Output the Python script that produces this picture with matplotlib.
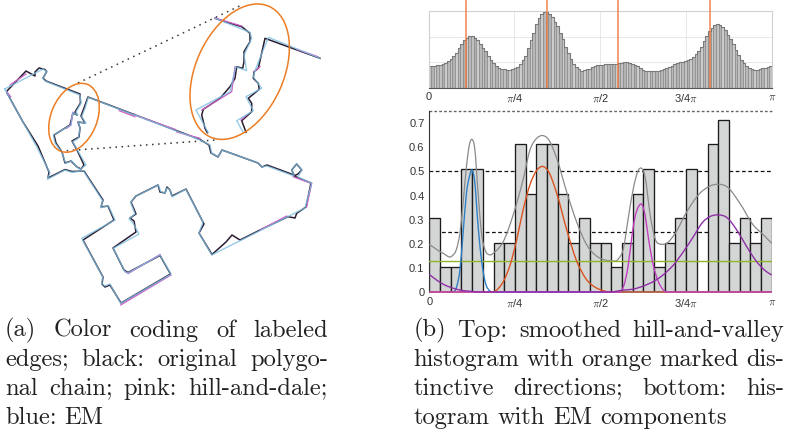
import matplotlib
matplotlib.use("Agg")
import numpy as np
import matplotlib.pyplot as plt
from matplotlib.patches import Ellipse, PathPatch
from matplotlib.path import Path

W, H = 787, 433

# top histogram, heights
hill_vals = [64,65,66,67,68,71,75,79,85,95,105,118,132,143,150,154,154,149,144,132,
             120,109,95,82,73,65,60,57,55,54,54,56,59,63,72,84,95,120,142,165,
             190,208,222,228,229,222,211,198,186,165,145,122,103,86,72,63,55,51,52,55,
             57,61,65,67,68,69,70,70,71,71,72,74,75,76,76,75,72,69,65,59,
             54,51,49,49,49,49,50,53,56,59,63,66,70,73,76,78,81,83,87,93,
             101,110,123,140,155,170,180,188,190,187,181,173,159,145,130,112,98,84,74,66,
             58,55,54,54,56,58,60,62,64]
hill_peaks = [0.109, 0.346, 0.551, 0.820]

# bottom histogram
em_hist = [.306,.102,.102,.51,.51,0,.204,.204,.612,.408,.612,.612,.408,.204,.306,.204,
           .204,.102,.204,.408,.51,.102,.204,.306,.51,0,.612,.714,.204,.306,.204,.306]
em_flat = 0.127
total_x = [0,.021,.041,.065,.080,.090,.099,.109,.117,.125,.132,.143,.153,.163,.177,.192,.216,.245,.275,.294,
           .314,.330,.348,.372,.401,.430,.460,.484,.499,.528,.552,.567,.581,.596,.611,.620,.630,.645,.659,.679,
           .693,.718,.752,.790,.820,.844,.869,.907,.946,.976,1]
total_y = [.198,.177,.160,.148,.181,.250,.375,.527,.610,.633,.603,.402,.237,.174,.154,.167,.209,.320,.472,.589,
           .638,.649,.633,.555,.416,.292,.195,.154,.140,.130,.137,.181,.306,.430,.506,.513,.479,.320,.223,.198,
           .202,.243,.333,.409,.440,.447,.437,.368,.278,.237,.202]
blue_x = [0,.070,.080,.090,.099,.109,.117,.125,.132,.143,.153,.163,.177,.187,1]
blue_y = [0,0,.022,.098,.250,.416,.478,.506,.465,.265,.126,.043,.004,0,0]
red_x = [0,.167,.197,.216,.236,.255,.275,.294,.314,.330,.348,.372,.401,.430,.460,.484,.499,.528,1]
red_y = [0,0,.008,.043,.112,.215,.347,.445,.505,.521,.500,.410,.260,.130,.050,.020,.010,0,0]
orchid_x = [0,.552,.567,.581,.591,.600,.611,.620,.630,.640,.654,.669,.684,.693,1]
orchid_y = [0,0,.022,.112,.223,.306,.354,.364,.320,.223,.112,.043,.008,0,0]
purple_x = [0,.021,.041,.065,.090,.119,.158,.528,.567,.596,.625,.654,.683,.713,.742,.771,.800,.820,.844,.869,.898,.927,.956,.985,1]
purple_y = [.073,.050,.032,.018,.008,.003,0,0,.008,.012,.025,.043,.071,.112,.167,.229,.292,.313,.320,.309,.257,.188,.126,.084,.071]
tick_pos = [0, .25, .5, .75, 1]
tick_txt = ['0', r'$\pi$/4', r'$\pi$/2', r'3/4$\pi$', r'$\pi$']
em_yticks = [0, .1, .2, .3, .4, .5, .6, .7]
em_ylabels = ['0', '0.1', '0.2', '0.3', '0.4', '0.5', '0.6', '0.7']

# left panel polygon, pixel coords of the picture
blue_chain = [(4.7,89),(43,69),(46.7,71.7),(42.7,78.3),(45,81),(80,95),(81,103),(76,112),(78,115),(72.7,112.7),(71,125),
    (53.3,135),(55,143),(61.7,152),(65.7,163.3),(71.7,161),(77,167),(80,169.3),(86,165),(77.3,150),(72.7,141.7),(78.3,138.3),
    (80,128.3),(78.3,121.7),(86,123.3),(81.7,116.7),(85,108.3),(88.3,97.3),(200,140),(210,145),(211.7,153.3),(218,156.7),
    (222,150),(258,163),(262,167),(267,166),(294,176),(291.7,170),(296.7,164),(301.7,170),(298,177),(311.7,183.3),(305,208),(295,213),(211.7,255),
    (199,233),(203,222),(185.7,189),(172.3,196.7),(170,190),(167,188),(165,193),(160.7,191.7),(158.3,185),(135,196.7),
    (130.7,202.3),(135,214),(129,219),(133,223),(139,234),(113.3,248.3),(125,271.7),(128,273),(160,255),(171,274.3),
    (120.7,303.3),(110,284),(105,286),(101.7,283.3),(102.7,276.7),(81.7,238.3),(115,220),(108.3,205.7),(100.7,207.7),
    (102.7,200.7),(83.3,170.7),(71.7,172.3),(65,170),(47.3,179.3),(50,173),(36.7,146.7),(4.7,89)]
black_chain = [(7,91),(26,71),(35,76),(35,72),(39,68),(45,69.5),(46.7,71.7),(43,78),(46,81),(80,94),(80.5,103),(75,112),
    (77,115),(73,113),(70,125),(54,135),(56,143),(62,152),(65,163),(71,161),(77,167),(81,169),(84,165),(77,150),(72,141),
    (79,137),(80,128),(78,122),(85,123),(81,116),(84,108),(88,97),(200,139.5),(209,145),(211,153),(218,157),(222,150),
    (258,163),(262,167),(267,165),(294,175),(291.7,170),(296.7,164),(301.7,170),(298,174),(294,176),(311,183),(306,207),
    (296.7,213.3),(295,218),(288,216.7),(262,229),(240,240),(232,235),(226,242),(212,254.5),(199,233),(204,224),(186,189),(172,196),(170,190),
    (167,187),(165,193),(160,192),(158,185),(136,196),(131,202),(136,214),(130,218),(134,221),(136,232),(113,248),(124,270),
    (128,272.5),(160,255.5),(170.5,274),(121,303),(110,285),(105,287),(102,284),(103,277),(83,240),(114,220),(108,206),
    (101,207),(103,200),(84,171),(72,171.5),(65,169.5),(48,178),(49,172),(38,146),(23,122),(7,93)]
pink_parts = [[(10,85),(26,74)], [(6.7,91.7),(10.7,96.7)], [(119.3,110.7),(135,116.7)], [(135,115),(175,129.3)],
    [(176.7,132),(200,138.3)], [(72.7,112.3),(71,125),(66.7,128.3)], [(120.7,305),(171,275)],
    [(125,271.7),(128.3,273.5),(160,254.5)], [(293,176.7),(310,183)], [(311.7,183.3),(306.7,206.7)], [(260,230),(286.7,216)]]

# enlarged part in the big ellipse
inset_blue_l = [(215,18.3),(250,32.3),(251.7,38.3),(244,55),(246.7,70.7),(235.7,66.7),(230,91.7),(196,110),(208.3,132.7)]
inset_black_l = [(215,18.3),(225,21.7),(241.7,26.7),(250,33.3),(250,41.7),(244,51.7),(244,61.7),(242.7,68.3),(236.7,66.7),
    (235,78.3),(230,86.7),(220,98.3),(203.3,109.3),(201.7,115),(205,128.3),(207.3,132.7)]
inset_pink_l = [(215,18),(241.7,26)]
inset_pink_l2 = [(235,66.7),(231.7,91.7),(201.7,110)]
inset_blue_r = [(243.3,132.7),(236.7,120.7),(253.3,110.7),(246,96.7),(261.7,88.3),(253.3,76.7),(255,70.7),(268.3,37.3),(320,58.3)]
inset_black_r = [(246,132.3),(241.7,120.7),(251.7,111.7),(251.7,103.3),(248.3,98.3),(259.3,89.3),(258.3,83.3),(253.3,78.3),
    (254,71.7),(258.3,68.3),(265,38.3),(283.3,45),(320,58.3)]
inset_pink_r = [[(241,120),(246.7,115)], [(254,71.7),(260,66.7)], [(296.7,49.3),(318,56.7)]]
dots_a = [(78,83),(241.7,5)]
dots_b = [(66.7,150.7),(215,140)]

caption_a = ['(a) Color coding of labeled', 'edges; black: original polygo-', 'nal chain; pink: hill-and-dale;', 'blue: EM']
caption_b = ['(b) Top: smoothed hill-and-valley', 'histogram with orange marked dis-', 'tinctive directions; bottom: his-', 'togram with EM components']

plt.rcParams['mathtext.fontset'] = 'cm'
plt.rcParams['font.family'] = ['Liberation Sans', 'DejaVu Sans']
plt.rcParams['axes.formatter.use_mathtext'] = True

ORANGE = '#ec7d24'
TXT = '#333333'

fig = plt.figure(figsize=(W/100, H/100), dpi=100, facecolor='white')

def px_axes(l, t, r, b):
    return fig.add_axes([l/W, 1-b/H, (r-l)/W, (b-t)/H])

# overlay in pixel coords
bg = fig.add_axes([0, 0, 1, 1])
bg.set_xlim(0, W); bg.set_ylim(H, 0); bg.axis('off')

def draw(pts, color, lw, alpha=1.0, ls='-', z=2):
    a = np.array(pts)
    bg.plot(a[:,0], a[:,1], color=color, lw=lw, alpha=alpha, ls=ls, zorder=z, solid_joinstyle='round')

PINK, BLACK, BLUE = '#c95fc6', '#2a1c30', '#7dbde0'
draw(black_chain, BLACK, 1.1, z=2)
for p in pink_parts:
    draw(p, PINK, 0.9, z=3)
draw(blue_chain, BLUE, 1.0, alpha=0.8, z=4)
for p in [inset_black_l, inset_black_r]:
    draw(p, BLACK, 1.1, z=2)
for p in [inset_pink_l, inset_pink_l2] + inset_pink_r:
    draw(p, PINK, 0.9, z=3)
for p in [inset_blue_l, inset_blue_r]:
    draw(p, BLUE, 1.0, alpha=0.8, z=4)
draw(dots_a, '#333333', 1.1, ls=(0, (1, 3)), z=1)
draw(dots_b, '#333333', 1.1, ls=(0, (1, 3)), z=1)
bg.add_patch(Ellipse((74, 117.8), 72, 46.2, angle=-68, fill=False, ec=ORANGE, lw=1.1, zorder=5))
bg.add_patch(Ellipse((239.7, 71.7), 143.2, 87.8, angle=-65.7, fill=False, ec=ORANGE, lw=1.1, zorder=5))

# top histogram
ax1 = px_axes(428.5, 11, 772, 87.5)
n = len(hill_vals)
shades = ['#c0c0c0', '#b2b2b2', '#cccccc', '#b8b8b8']
ax1.bar((np.arange(n)+.5)/n, hill_vals, width=1/n, color=[shades[i % 4] for i in range(n)],
        edgecolor='#7e7e7e', lw=0.4, zorder=2)
ax1.step(np.arange(n+1)/n, hill_vals + hill_vals[-1:], where='post', color='#7a7a7a', lw=0.8, zorder=2.5)
ax1.set_xlim(0, 1); ax1.set_ylim(0, 230)
ax1.set_xticks(tick_pos); ax1.set_xticklabels(tick_txt, fontsize=8, color=TXT)
ax1.set_yticks([77, 153]); ax1.set_yticklabels([])
ax1.grid(color='#e4e4e4', lw=0.6, zorder=0)
ax1.tick_params(length=0, pad=3.5)
for k in ['top', 'left', 'right']:
    ax1.spines[k].set_color('#d0d0d0')
ax1.spines['bottom'].set_color('#555555')
ax1.vlines(hill_peaks, 0, 263, color='#ee7a35', lw=1.1, alpha=0.9, clip_on=False, zorder=3)

# bottom histogram
ax2 = px_axes(429.3, 110.7, 771.7, 292)

def smooth(ax, xs, ys, color, lw, z, clip=True):
    # hermite through the read points, only for drawing
    x = np.array(xs, float); y = np.array(ys, float)
    m = np.gradient(y, x)
    m[y == 0] = 0
    verts = [(x[0], y[0])]
    for i in range(len(x)-1):
        h = x[i+1] - x[i]
        verts += [(x[i]+h/3, y[i]+m[i]*h/3), (x[i+1]-h/3, y[i+1]-m[i+1]*h/3), (x[i+1], y[i+1])]
    codes = [Path.MOVETO] + [Path.CURVE4]*(len(verts)-1)
    ax.add_patch(PathPatch(Path(verts, codes), fill=False, ec=color, lw=lw, zorder=z, clip_on=clip))

ax2.hlines([.5, .25], 0, 1, color='#111111', lw=0.9, ls=(0, (3, 2)), zorder=1)
ax2.hlines(.752, 0, 1, color='#666666', lw=1.0, ls=(0, (2, 1.5)), zorder=1, clip_on=False)
k = len(em_hist)
ax2.bar(np.arange(k)/k, em_hist, width=1/k, align='edge', color='#d4d6d5', edgecolor='#1c1c1c', lw=0.95, zorder=2)
smooth(ax2, total_x, total_y, '#8a8a8a', 0.9, 3)
ax2.axhline(em_flat, color='#8fb52a', lw=1.0, zorder=3)
smooth(ax2, blue_x, blue_y, '#2f7fc4', 1.0, 4, clip=False)
smooth(ax2, red_x, red_y, '#d9531e', 1.0, 4, clip=False)
smooth(ax2, orchid_x, orchid_y, '#c040c0', 1.0, 4, clip=False)
smooth(ax2, purple_x, purple_y, '#8e2ea8', 1.0, 5, clip=False)
ax2.set_xlim(0, 1); ax2.set_ylim(0, .752)
ax2.set_xticks(tick_pos); ax2.set_xticklabels(tick_txt, fontsize=8, color=TXT)
ax2.set_yticks(em_yticks); ax2.set_yticklabels(em_ylabels, fontsize=8, color=TXT)
ax2.tick_params(length=0, pad=3.5)
for s in ['top', 'right', 'bottom']:
    ax2.spines[s].set_visible(False)
ax2.spines['left'].set_color('#333333')

# justified caption text
rend = fig.canvas.get_renderer()

def word_w(s, size):
    t = bg.text(0, 0, s, family='cmr10', fontsize=size)
    w = t.get_window_extent(rend).width
    t.remove()
    return w

def caption(lines, x0, x1, y0, dy, size=17.6):
    for i, line in enumerate(lines):
        words = line.split(' ')
        ws = [word_w(s, size) for s in words]
        gap = word_w('x x', size) - 2*word_w('x', size)
        if i < len(lines)-1:
            gap = (x1 - x0 - sum(ws)) / (len(words)-1)
        x = x0
        for s, w in zip(words, ws):
            bg.text(x, y0 + i*dy, s, family='cmr10', fontsize=size, color='#222222', va='baseline', ha='left')
            x += w + gap

caption(caption_a, 5, 328, 336.7, 29)
caption(caption_b, 413.3, 784.3, 336.7, 29)

fig.savefig('out.png', dpi=100)
